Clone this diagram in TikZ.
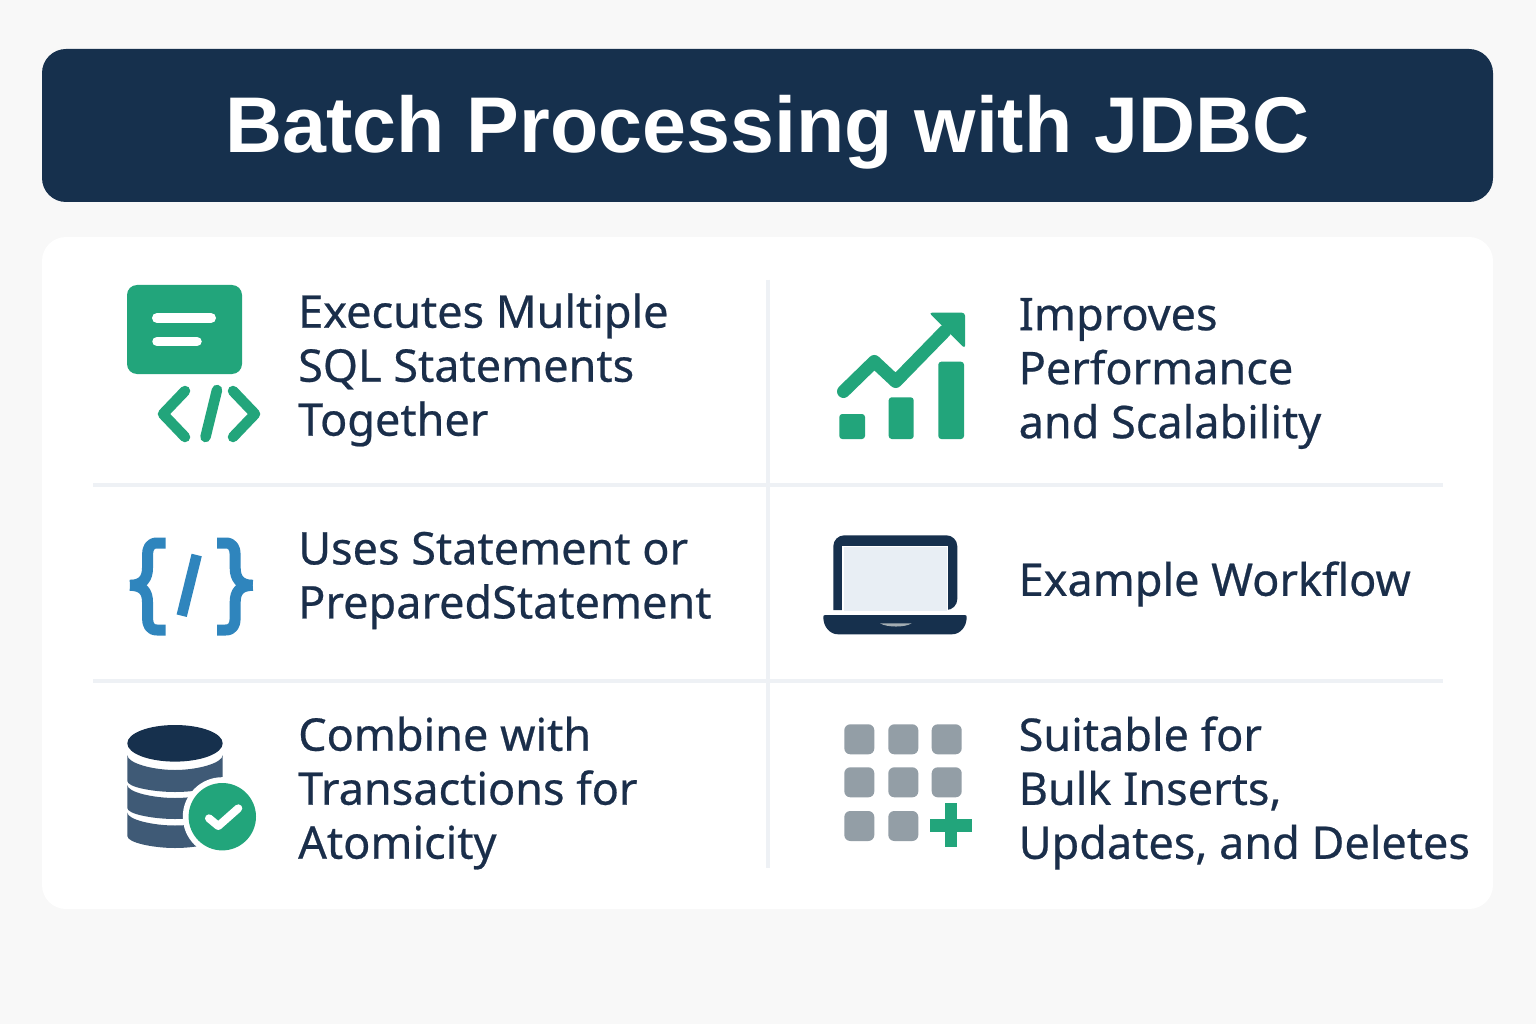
\documentclass[tikz,border=0pt]{standalone}
\usepackage{fontspec}
\setmainfont{Noto Sans}
\newfontfamily\titlefont{Liberation Sans}[Scale=1]
\newfontfamily\bodyfont{Noto Sans}[FakeBold=0.5]
\definecolor{navy}{HTML}{16304D}
\definecolor{ink}{HTML}{1A2E4A}
\definecolor{pagebg}{HTML}{F8F8F8}
\definecolor{gridc}{HTML}{EEF1F5}
\definecolor{grn}{HTML}{22A57B}
\definecolor{blu}{HTML}{2F85BD}
\definecolor{slate}{HTML}{3F5A76}
\definecolor{greyc}{HTML}{939EA6}
\definecolor{screenc}{HTML}{E8EEF4}
\tikzset{
  label/.style={anchor=west,align=left,inner sep=0pt,text=ink,font=\bodyfont\fontsize{45}{54}\selectfont},
  gridline/.style={draw=gridc,line width=4pt},
  codeline/.style={draw=grn,line width=10.5pt,line cap=round,line join=round},
  bracep/.style={draw=blu,line width=11pt,line join=round},
  cell/.style={fill=greyc,rounded corners=6pt},
}
\newcommand{\dblayer}[4]{%
  \fill[slate] (127.3,#1) .. controls (127.3,#1+0.55*#3) and (153,#1+#3) .. (175,#1+#3)
    .. controls (197,#1+#3) and (222.7,#1+0.55*#3) .. (222.7,#1)
    -- (222.7,#2) .. controls (222.7,#2+0.55*#4) and (197,#2+#4) .. (175,#2+#4)
    .. controls (153,#2+#4) and (127.3,#2+0.55*#4) .. (127.3,#2) -- cycle;}
\begin{document}
\begin{tikzpicture}[x=1pt,y=-1pt]
\useasboundingbox (0,0) rectangle (1536,1024);
\fill[pagebg] (0,0) rectangle (1536,1024);
% header
\fill[navy,rounded corners=24pt] (42,49) rectangle (1493,202);
\node (title) at (767.5,132.5) [text=white,inner sep=0pt,font=\titlefont\bfseries\fontsize{79}{96}\selectfont] {Batch Processing with JDBC};
% panel
\fill[white,rounded corners=24pt] (42,237) rectangle (1493,909);
\draw[gridline] (768,280) -- (768,868);
\draw[gridline] (93,484.5) -- (1443,484.5);
\draw[gridline] (93,680.5) -- (1443,680.5);
% labels
\node[label] (t1) at (298,370) {Executes Multiple\\SQL Statements\\Together};
\node[label] (t2) at (1018.5,373.5) {Improves\\Performance\\and Scalability};
\node[label] (t3) at (298,580.5) {Uses Statement or\\PreparedStatement};
\node[label] (t4) at (1018.5,584) {Example Workflow};
\node[label] (t5) at (298,793) {Combine with\\Transactions for\\Atomicity};
\node[label] (t6) at (1018.5,793) {Suitable for\\Bulk Inserts,\\Updates, and Deletes};
% icon 1: code card
\fill[grn,rounded corners=10pt] (127,285) rectangle (242,374);
\draw[white,line width=10pt,line cap=round] (157,318) -- (211,318);
\draw[white,line width=9.5pt,line cap=round] (157,341.5) -- (197,341.5);
\draw[codeline] (185,391) -- (163,414) -- (185,437);
\draw[codeline] (217,390) -- (205.5,437);
\draw[codeline] (233,391) -- (255,414) -- (233,437);
% icon 2: growth chart
\fill[grn,rounded corners=3pt] (839.3,414) rectangle (865,439);
\fill[grn,rounded corners=3pt] (888.7,397.3) rectangle (913.7,439);
\fill[grn,rounded corners=3pt] (938.3,361.7) rectangle (964,439);
\draw[grn,line width=13pt,line cap=round,line join=round] (843.5,391.5) -- (874.3,361.5) -- (895.7,381.5) -- (945,331);
\fill[grn,rounded corners=3pt] (929,312.7) -- (965,312.7) -- (965,348.5) -- cycle;
% icon 3: braces
\draw[bracep] (165.7,543) -- (157,543) .. controls (150,543) and (147.5,548) .. (147.5,555)
  -- (147.5,568) .. controls (147.5,578) and (143,585.3) .. (130,585.3);
\draw[bracep] (130,585.3) .. controls (143,585.3) and (147.5,592) .. (147.5,602)
  -- (147.5,618) .. controls (147.5,625) and (150,630) .. (157,630) -- (165.7,630);
\draw[bracep] (217,543) -- (225.7,543) .. controls (232.7,543) and (235.2,548) .. (235.2,555)
  -- (235.2,568) .. controls (235.2,578) and (239.7,585.3) .. (252.7,585.3);
\draw[bracep] (252.7,585.3) .. controls (239.7,585.3) and (235.2,592) .. (235.2,602)
  -- (235.2,618) .. controls (235.2,625) and (232.7,630) .. (225.7,630) -- (217,630);
\draw[blu,line width=10.5pt] (196.7,555) -- (181.7,615.7);
% icon 4: laptop
\fill[navy,rounded corners=11pt] (833.3,610) -- (833.3,535.3) -- (957.3,535.3) -- (957.3,610) [sharp corners] -- cycle;
\fill[white] (842.3,545.7) rectangle (947.7,615);
\fill[screenc] (843.5,547) rectangle (946.5,612);
\fill[white] (830,610.5) rectangle (960,615);
\fill[navy] (823.3,617) .. controls (823.3,615.6) and (824,615) .. (825.3,615) -- (964.7,615)
  .. controls (966,615) and (966.7,615.6) .. (966.7,617)
  .. controls (966.7,627) and (960,634.3) .. (952,634.3) -- (838,634.3)
  .. controls (830,634.3) and (823.3,627) .. (823.3,617) -- cycle;
\fill[greyc!85!white] (880,623.3) -- (911.7,623.3) .. controls (905,627.6) and (887,627.6) .. (880,623.3) -- cycle;
% icon 5: database with check
\dblayer{755}{781}{15}{11}
\dblayer{785}{808}{13}{11}
\dblayer{812.5}{836}{13}{12}
\fill[navy] (175,743.3) ellipse [x radius=47.7,y radius=18.3];
\fill[white] (222.3,816.7) circle [radius=39.5];
\fill[grn] (222.3,816.7) circle [radius=33.7];
\draw[white,line width=8pt,line cap=round,line join=round] (209,818.3) -- (218.3,826) -- (238.3,808.3);
% icon 6: grid with plus
\foreach \cx/\cy in {844.3/724.3,888.3/724.3,931.7/724.3,844.3/767.3,888.3/767.3,931.7/767.3,844.3/811,888.3/811}
  \fill[cell] (\cx,\cy) rectangle +(30,30);
\fill[grn] (945,803.3) rectangle (956.7,846.7);
\fill[grn] (930,819.3) rectangle (972.3,831.7);
\end{tikzpicture}
\end{document}
